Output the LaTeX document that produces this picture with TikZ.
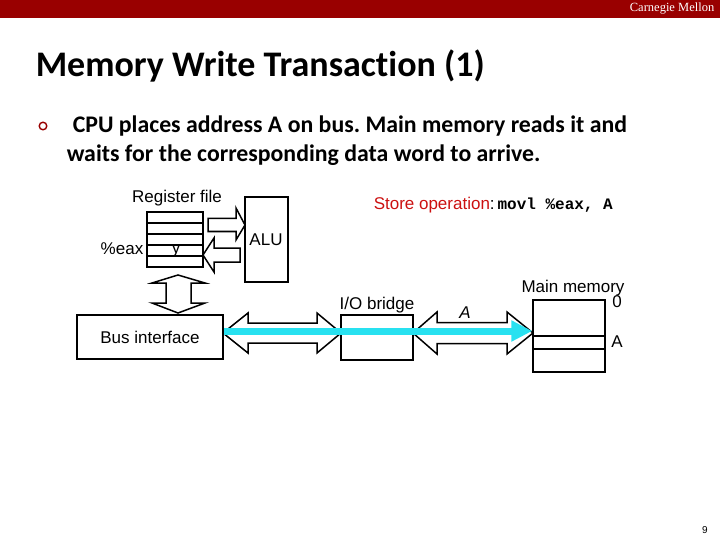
\documentclass[tikz,border=0pt]{standalone}
\usepackage{fontspec}
\setmainfont{Liberation Sans}
\newfontfamily\calibri[Ligatures=NoCommon]{Carlito}
\newfontfamily\courierb{Liberation Mono}
\newfontfamily\timesf{Liberation Serif}
\usetikzlibrary{arrows.meta}
\definecolor{hdr}{HTML}{990000}
\definecolor{storered}{HTML}{CC1111}
\definecolor{buscyan}{RGB}{40,225,240}
\frenchspacing
\begin{document}
\begin{tikzpicture}[x=1pt,y=-1pt, line width=1.5pt,
  box/.style={draw, fill=white, inner sep=0pt, line width=1.5pt},
  lbl/.style={inner sep=0pt, font=\fontsize{17}{17}\selectfont},
  blockarrow/.style={draw, fill=white, line width=1.5pt, line join=miter},
  cyanarrow/.style={draw=buscyan, line width=7pt, -{Triangle[length=21pt,width=20pt]}}]
\useasboundingbox (0,0) rectangle (720,540);
\fill[white] (0,0) rectangle (720,540);
% header
\fill[hdr] (0,0) rectangle (720,18);
\node[inner sep=0pt, anchor=east, text=white, font=\timesf\fontsize{12.5}{12.5}\selectfont] (cmu) at (715,9) {Carnegie Mellon};
% title
\node[inner sep=0pt, anchor=west, font=\calibri\bfseries\fontsize{36}{36}\selectfont] (title) at (35,66) {Memory Write Transaction (1)};
% bullet
\draw[hdr, line width=1.4pt] (43,126) circle (3.8);
\node[inner sep=0pt, anchor=west, font=\calibri\bfseries\fontsize{23.8}{23.8}\selectfont] (b1) at (72,126) {CPU places address A on bus. Main memory reads it and};
\node[inner sep=0pt, anchor=west, font=\calibri\bfseries\fontsize{23.8}{23.8}\selectfont] (b2) at (66,155) {waits for the corresponding data word to arrive.};
% register file
\node[box, minimum width=56pt, minimum height=55pt] (reg) at (175,239.5) {};
\foreach \yy in {223,234,245,256} \draw (147,\yy) -- (203,\yy);
\node[lbl] (regl) at (177,198) {Register file};
\node[lbl] (eax) at (122,249) {\%eax};
\node[lbl] (yv) at (176,251) {y};
% ALU
\node[box, minimum width=43pt, minimum height=85pt] (alu) at (266.5,239.5) {};
\node[lbl] (alul) at (266,240) {ALU};
% block arrows between register file and ALU
\draw[blockarrow] (208,218.5) -- (236,218.5) -- (236,208) -- (245,225) -- (236,240) -- (236,231.5) -- (208,231.5) -- cycle;
\draw[blockarrow] (240,248) -- (214,248) -- (214,238) -- (203,255) -- (214,272) -- (214,262) -- (240,262) -- cycle;
% vertical double arrow
\draw[blockarrow] (178,275) -- (205,283) -- (191,283) -- (191,303) -- (205,303) -- (178,313) -- (152,303) -- (166,303) -- (166,283) -- (152,283) -- cycle;
% bus interface
\node[box, minimum width=146pt, minimum height=44pt] (bus) at (150,337) {};
\node[lbl] (busl) at (150,337) {Bus interface};
% I/O bridge
\node[box, minimum width=72pt, minimum height=45pt] (iob) at (377,337.5) {};
\node[lbl] (iobl) at (377,305) {I/O bridge};
% main memory
\node[box, minimum width=72pt, minimum height=72pt] (mem) at (569,336) {};
\draw (533,336) -- (605,336);
\draw (533,349) -- (605,349);
\node[lbl] (meml) at (573,288) {Main memory};
\node[lbl] (m0) at (617,302) {0};
\node[lbl] (mA) at (617,342) {A};
% bus double arrows
\draw[blockarrow] (223,333) -- (248,313) -- (248,323) -- (317,323) -- (317,313) -- (341,333) -- (317,353) -- (317,343) -- (248,343) -- (248,353) -- cycle;
\draw[blockarrow] (413,333) -- (437,312) -- (437,322.5) -- (507,322.5) -- (507,312) -- (533,333) -- (507,354) -- (507,343.5) -- (437,343.5) -- (437,354) -- cycle;
\node[lbl, font=\itshape\fontsize{17}{17}\selectfont] (al) at (465,313) {A};
% cyan address transfer
\coordinate (cy) at (0,331);
\draw[cyanarrow] (bus.east |- cy) -- (mem.west |- cy);
% store operation
\node[inner sep=0pt, anchor=west, font=\fontsize{17}{17}\selectfont] (store) at (373,205) {\textcolor{storered}{Store operation}:\,{\courierb\bfseries\fontsize{16}{16}\selectfont movl \%eax, A}};
% page number
\node[inner sep=0pt, font=\fontsize{10}{10}\selectfont] (pg) at (705,530) {9};
\end{tikzpicture}
\end{document}
